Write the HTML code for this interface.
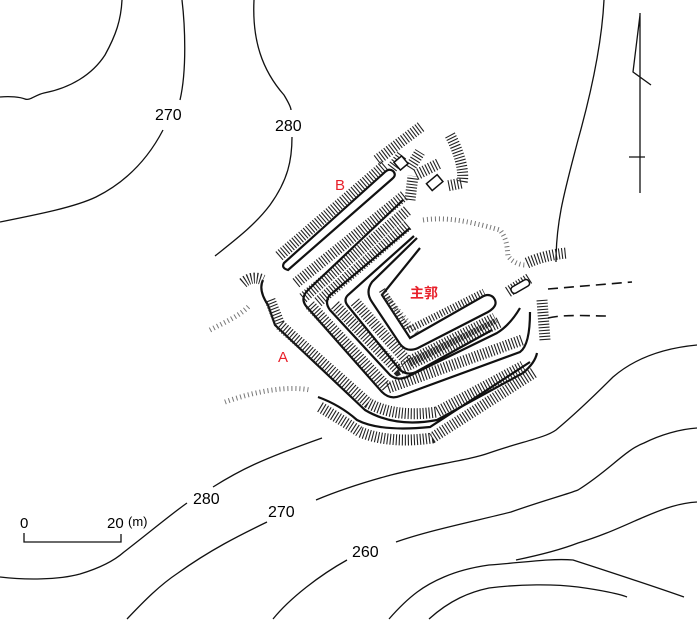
<!DOCTYPE html>
<html><head><meta charset="utf-8"><style>
html,body{margin:0;padding:0;background:#fff}
svg{display:block}
.c{fill:none;stroke:#111;stroke-width:1.3}
.l{fill:none;stroke:#111;stroke-width:2.2}
.h{fill:none;stroke:#222;stroke-width:11;stroke-dasharray:1.1 1.9}
.hs{fill:none;stroke:#222;stroke-width:7;stroke-dasharray:1.1 1.9}
.f{fill:none;stroke:#777;stroke-width:5;stroke-dasharray:1 3}
text{font-family:"Liberation Sans","Noto Sans CJK JP",sans-serif}
</style></head><body>
<svg width="697" height="620" viewBox="0 0 697 620" xmlns="http://www.w3.org/2000/svg">
<path class="c" d="M122,0 C121,20 116,35 105,55 C92,75 70,88 44,93 C35,95 30,101 25,99 C20,97 10,96 0,97"/>
<path class="c" d="M182,0 C185,25 187,70 180,100"/>
<path class="c" d="M163,130 C150,155 130,180 96,197 C75,207 40,214 0,222"/>
<path class="c" d="M254,0 C252,40 262,70 284,95 C290,105 291,108 291,110"/>
<path class="c" d="M292,137 C292,160 288,180 270,205 C255,225 235,240 215,256"/>
<path class="c" d="M604,0 C602,40 592,90 578,140 C565,190 556,220 556,262"/>
<path class="c" d="M640,13 L640,193 M640,15 L633,72 L651,85 M629,157 L645,157"/>
<path class="c" d="M0,577 C25,580 58,580 80,574 C100,568 115,560 124,552 C150,532 170,515 187,503"/>
<path class="c" d="M213,487 C240,470 260,460 322,438"/>
<path class="c" d="M127,619 C145,600 160,585 178,573 C210,550 240,535 267,522"/>
<path class="c" d="M316,500 C340,490 365,482 391,475 C430,465 470,460 489,453 C520,442 545,438 556,430 C580,410 600,390 613,377 C635,358 665,348 697,345"/>
<path class="c" d="M273,619 C290,598 320,575 347,560"/>
<path class="c" d="M396,542 C430,530 480,520 511,512 C545,500 565,495 578,490 C610,470 625,450 644,443 C660,435 680,429 697,428"/>
<path class="c" d="M389,619 C410,595 425,585 444,577 C460,570 475,567 489,565 C520,563 550,558 573,560 C610,572 650,585 684,597"/>
<path class="c" d="M516,560 C540,555 560,550 578,543 C605,535 625,525 644,517 C665,508 680,503 697,502"/>
<path class="c" d="M429,619 C450,600 470,592 489,588 C520,584 555,584 578,587 C600,590 620,594 627,597"/>
<path class="c" d="M24,533 L24,542 L121,542 L121,534"/>
<text x="20" y="528" font-size="15">0</text>
<text x="107" y="528" font-size="15">20</text>
<text x="128" y="526" font-size="13">(m)</text>
<text x="155" y="120" font-size="16">270</text>
<text x="275" y="131" font-size="16">280</text>
<text x="193" y="504" font-size="16">280</text>
<text x="268" y="517" font-size="16">270</text>
<text x="352" y="557" font-size="16">260</text>

<path class="f" d="M210,330 C225,322 240,316 250,305"/>
<path class="f" d="M225,402 C250,393 285,385 310,390"/>
<path class="f" d="M423,220 C445,217 465,220 500,230 C508,240 507,250 508,256 C512,262 520,265 525,265"/>
<path class="f" d="M383,292 L417,333"/>
<!-- B rampart -->
<path class="h" d="M279,256 L385,165"/>
<path class="h" d="M377,160 L422,126"/>
<path class="l" d="M288,270 L392,179 Q397,175 393,171 Q389,168 385,172 L284,263 Q281,268 288,270 Z"/>
<path class="h" d="M392,168 L402,155 M410,168 L420,152 M410,200 L413,176"/>
<rect x="396" y="158" width="10" height="10" fill="#fff" stroke="#111" stroke-width="1.5" transform="rotate(-40 401 163)"/>
<path class="h" d="M416,175 L440,163"/>
<rect x="428" y="178" width="14" height="9" fill="#fff" stroke="#111" stroke-width="1.5" transform="rotate(-40 435 183)"/>
<path class="h" d="M450,135 C458,150 465,170 462,183 L447,186"/>
<!-- rings -->
<path class="h" d="M296,283 L405,195"/>
<path class="h" d="M303,298 L408,210"/>
<path class="h" d="M318,302 L408,225"/>
<path class="l" d="M403,200 L308,290 Q300,298 306,306 L382,392 Q390,400 400,396 L520,352 Q530,345 530,312"/>
<path class="h" d="M310,305 L388,388 L522,340"/>
<path class="l" d="M410,228 L330,295 Q324,302 330,310 L390,375 Q397,381 407,377 L497,333 Q510,325 520,308"/>
<path class="h" d="M335,305 L398,370 L500,322"/>
<path class="l" d="M414,236 L348,295 Q343,300 348,306 L400,370 Q408,376 416,372 L492,330"/>
<path class="h" d="M355,302 L408,362 L495,318"/>
<!-- inner bailey -->
<path class="l" d="M417,238 L372,282 Q365,292 372,302 L400,344 Q407,353 418,348 L488,312 Q500,305 493,297 Q488,293 482,297 L410,338 L382,295 L420,248"/>
<path class="hs" d="M382,290 L408,330 L484,292"/>
<!-- outer ring -->
<path class="l" d="M263,280 Q258,290 268,305 L275,325 L365,410 Q395,428 437,420 L523,373 Q535,363 537,353"/>
<path class="h" d="M270,300 L280,325 L368,403 Q395,418 437,412 L523,366"/>
<path class="l" d="M318,397 Q340,405 357,420 Q380,432 430,427 L530,362"/>
<path class="h" d="M320,407 Q345,422 360,432 Q390,444 432,438 L535,372"/>
<path class="h" d="M243,283 Q252,275 263,280"/>
<path class="h" d="M527,263 Q545,255 567,253"/>
<path class="h" d="M508,292 L530,278 M542,300 L545,340"/>
<rect x="510" y="283" width="20" height="7" rx="3" fill="#fff" stroke="#111" stroke-width="1.5" transform="rotate(-30 520 286)"/>
<path fill="none" stroke="#111" stroke-width="1.6" stroke-dasharray="10 6" d="M548,289 L632,282 M548,318 C565,314 590,316 607,316"/>
<text x="335" y="190" font-size="15" fill="#e8202a">B</text>
<text x="278" y="362" font-size="15" fill="#e8202a">A</text>
<text x="410" y="298" font-size="14" fill="#e8202a" font-weight="bold">主郭</text>
</svg>
</body></html>
